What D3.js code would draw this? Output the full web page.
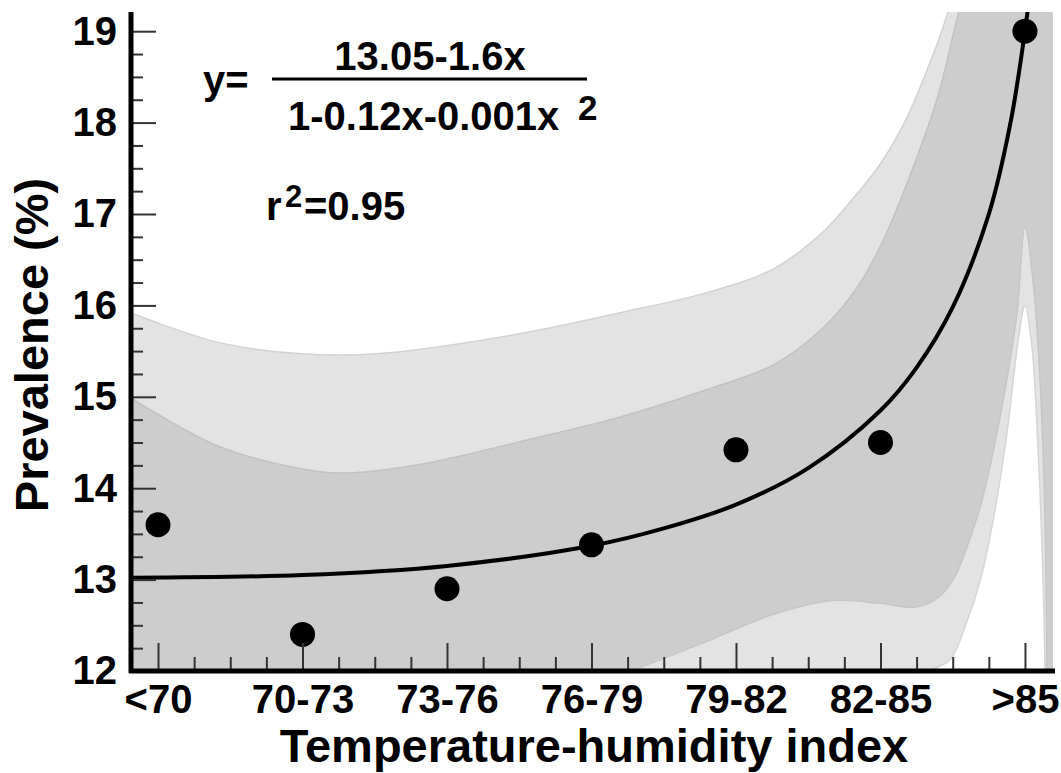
<!DOCTYPE html>
<html>
<head>
<meta charset="utf-8">
<script src="https://cdn.jsdelivr.net/npm/d3@7"></script>
<style>
	body { margin: 0; background: #fff; }
	text { font-family: "Liberation Sans", Arial, sans-serif; font-weight: bold; fill: #000; }
</style>
</head>
<body>
<script>

// categories on the x axis (plotted at index 0..6)
var categories = ['<70', '70-73', '73-76', '76-79', '79-82', '82-85', '>85'];
var prevalence = [13.6, 12.4, 12.9, 13.38, 14.42, 14.5, 19.0];
var yTicks = [12, 13, 14, 15, 16, 17, 18, 19];

// fitted curve as [category index, value]
var fitCurve = [[-0.19, 13.02], [1.0, 13.05], [2.0, 13.15], [3.0, 13.37], [3.5, 13.56], [4.0, 13.82],
	[4.5, 14.22], [5.0, 14.85], [5.25, 15.32], [5.5, 15.98], [5.75, 17.0], [5.9, 18.0], [6.0, 19.0],
	[6.04, 19.5]];

// band edges
var outerUpper = [[-0.19, 15.92], [0.43, 15.59], [1.12, 15.46], [1.58, 15.48], [2.04, 15.57], [2.64, 15.73],
	[3.2, 15.92], [3.8, 16.14], [4.26, 16.4], [4.6, 16.8], [4.8, 17.15], [5.0, 17.55], [5.15, 17.95],
	[5.39, 18.85], [5.55, 19.6], [5.8, 20.6], [6.2, 21.5]];
var innerUpper = [[-0.19, 14.99], [0.43, 14.45], [1.12, 14.18], [1.35, 14.17], [1.81, 14.26], [2.64, 14.56],
	[3.2, 14.78], [3.8, 15.08], [4.26, 15.35], [4.6, 15.75], [4.84, 16.2], [5.0, 16.65], [5.15, 17.2],
	[5.39, 18.25], [5.54, 19.2], [5.75, 20.4], [6.2, 21.5]];
var innerLower = [[-0.19, 10.0], [1.5, 11.0], [3.0, 11.85], [3.27, 12.0], [3.76, 12.3], [4.26, 12.62],
	[4.68, 12.77], [5.0, 12.74], [5.25, 12.7], [5.41, 12.82], [5.52, 13.05], [5.62, 13.45], [5.7, 13.85],
	[5.78, 14.4], [5.875, 15.19], [5.945, 15.92], [6.0, 16.86], [6.055, 16.28], [6.104, 15.19],
	[6.138, 13.73], [6.152, 12.09], [6.165, 10.5], [6.2, 10.0]];
var outerLower = [[-0.19, 9.0], [3.0, 10.5], [4.5, 11.2], [5.2, 11.8], [5.34, 12.0], [5.48, 12.12],
	[5.6, 12.55], [5.7, 13.05], [5.78, 13.65], [5.875, 14.6], [5.952, 15.6], [6.0, 16.0], [6.048, 15.55],
	[6.09, 14.45], [6.125, 13.0], [6.138, 12.09], [6.15, 10.5], [6.2, 9.0]];

var width = 1061, height = 773;

var svg = d3.select('body').append('svg')
	.attr('width', width)
	.attr('height', height);

var x = d3.scaleLinear().domain([-0.187, 6.194]).range([131, 1053]);
var y = d3.scaleLinear().domain([12, 19.21]).range([671, 12]);

svg.append('defs').append('clipPath')
	.attr('id', 'plotClip')
	.append('rect')
	.attr('x', 131)
	.attr('y', 12)
	.attr('width', 1053 - 131)
	.attr('height', 671 - 12);

var plot = svg.append('g')
	.attr('clip-path', 'url(#plotClip)');

var smooth = d3.curveCatmullRom.alpha(0.5);

var area = d3.area()
	.x(function(d) { return x(d[0]); })
	.y0(y(8))
	.y1(function(d) { return y(d[1]); })
	.curve(smooth);

var line = d3.line()
	.x(function(d) { return x(d[0]); })
	.y(function(d) { return y(d[1]); })
	.curve(smooth);

// layered fills, outermost first
var layers = [
	{ data: outerUpper, fill: '#e3e3e3', edge: '#d2d2d2' },
	{ data: innerUpper, fill: '#cdcdcd', edge: '#c2c2c2' },
	{ data: innerLower, fill: '#e3e3e3', edge: '#c6c6c6' },
	{ data: outerLower, fill: '#ffffff', edge: '#d6d6d6' }
];

layers.forEach(function(l) {
	plot.append('path')
		.datum(l.data)
		.attr('d', area)
		.attr('fill', l.fill);
});

layers.forEach(function(l) {
	plot.append('path')
		.datum(l.data)
		.attr('d', line)
		.attr('fill', 'none')
		.attr('stroke', l.edge)
		.attr('stroke-width', 1.5);
});

plot.append('path')
	.datum(fitCurve)
	.attr('d', line)
	.attr('fill', 'none')
	.attr('stroke', '#000')
	.attr('stroke-width', 4);

svg.append('g')
	.selectAll('circle')
	.data(prevalence)
	.enter()
	.append('circle')
	.attr('cx', function(d, i) { return x(i); })
	.attr('cy', function(d) { return y(d); })
	.attr('r', 12.5)
	.attr('fill', '#000');

// axes
var yMinor = d3.range(12, 19.01, 0.25).filter(function(v) { return v % 1 !== 0; });
var xMinor = d3.range(0, 6.01, 0.25).filter(function(v) { return v % 1 !== 0; });

var yAxis = svg.append('g')
	.attr('transform', 'translate(131,0)')
	.call(d3.axisLeft(y).tickValues(yTicks).tickSize(-25).tickPadding(14).tickFormat(d3.format('d')));

var yAxisMinor = svg.append('g')
	.attr('transform', 'translate(131,0)')
	.call(d3.axisLeft(y).tickValues(yMinor).tickSize(-12).tickFormat(''));

var xAxis = svg.append('g')
	.attr('transform', 'translate(0,671)')
	.call(d3.axisBottom(x).tickValues(d3.range(7)).tickSize(-28).tickPadding(14)
		.tickFormat(function(i) { return categories[i]; }));

var xAxisMinor = svg.append('g')
	.attr('transform', 'translate(0,671)')
	.call(d3.axisBottom(x).tickValues(xMinor).tickSize(-14).tickFormat(''));

[yAxis, yAxisMinor, xAxis, xAxisMinor].forEach(function(a) {
	a.select('.domain').remove();
	a.selectAll('line')
		.attr('stroke', '#333')
		.attr('stroke-width', 2);
	a.selectAll('text')
		.style('font-family', '"Liberation Sans", Arial, sans-serif')
		.style('font-weight', 'bold')
		.attr('font-size', 40)
		.attr('fill', '#000');
});

svg.append('line')
	.attr('x1', 131).attr('x2', 131)
	.attr('y1', 12).attr('y2', 673)
	.attr('stroke', '#000')
	.attr('stroke-width', 5);

svg.append('line')
	.attr('x1', 129).attr('x2', 1055)
	.attr('y1', 671).attr('y2', 671)
	.attr('stroke', '#000')
	.attr('stroke-width', 5);

// axis titles
svg.append('text')
	.attr('transform', 'translate(48,345) rotate(-90)')
	.attr('text-anchor', 'middle')
	.attr('font-size', 47)
	.text('Prevalence (%)');

svg.append('text')
	.attr('x', 594)
	.attr('y', 762)
	.attr('text-anchor', 'middle')
	.attr('font-size', 47)
	.text('Temperature-humidity index');

// equation
svg.append('text')
	.attr('x', 203)
	.attr('y', 94)
	.attr('font-size', 40)
	.text('y=');

svg.append('text')
	.attr('x', 430)
	.attr('y', 70)
	.attr('text-anchor', 'middle')
	.attr('font-size', 40)
	.text('13.05-1.6x');

svg.append('line')
	.attr('x1', 272).attr('x2', 587)
	.attr('y1', 79).attr('y2', 79)
	.attr('stroke', '#000')
	.attr('stroke-width', 3);

svg.append('text')
	.attr('x', 288)
	.attr('y', 130)
	.attr('font-size', 40)
	.text('1-0.12x-0.001x');

svg.append('text')
	.attr('x', 578)
	.attr('y', 120)
	.attr('font-size', 35)
	.text('2');

svg.append('text')
	.attr('x', 266)
	.attr('y', 220)
	.attr('font-size', 40)
	.text('r');

svg.append('text')
	.attr('x', 285)
	.attr('y', 207)
	.attr('font-size', 31)
	.text('2');

svg.append('text')
	.attr('x', 304)
	.attr('y', 220)
	.attr('font-size', 40)
	.text('=0.95');

</script>
</body>
</html>
